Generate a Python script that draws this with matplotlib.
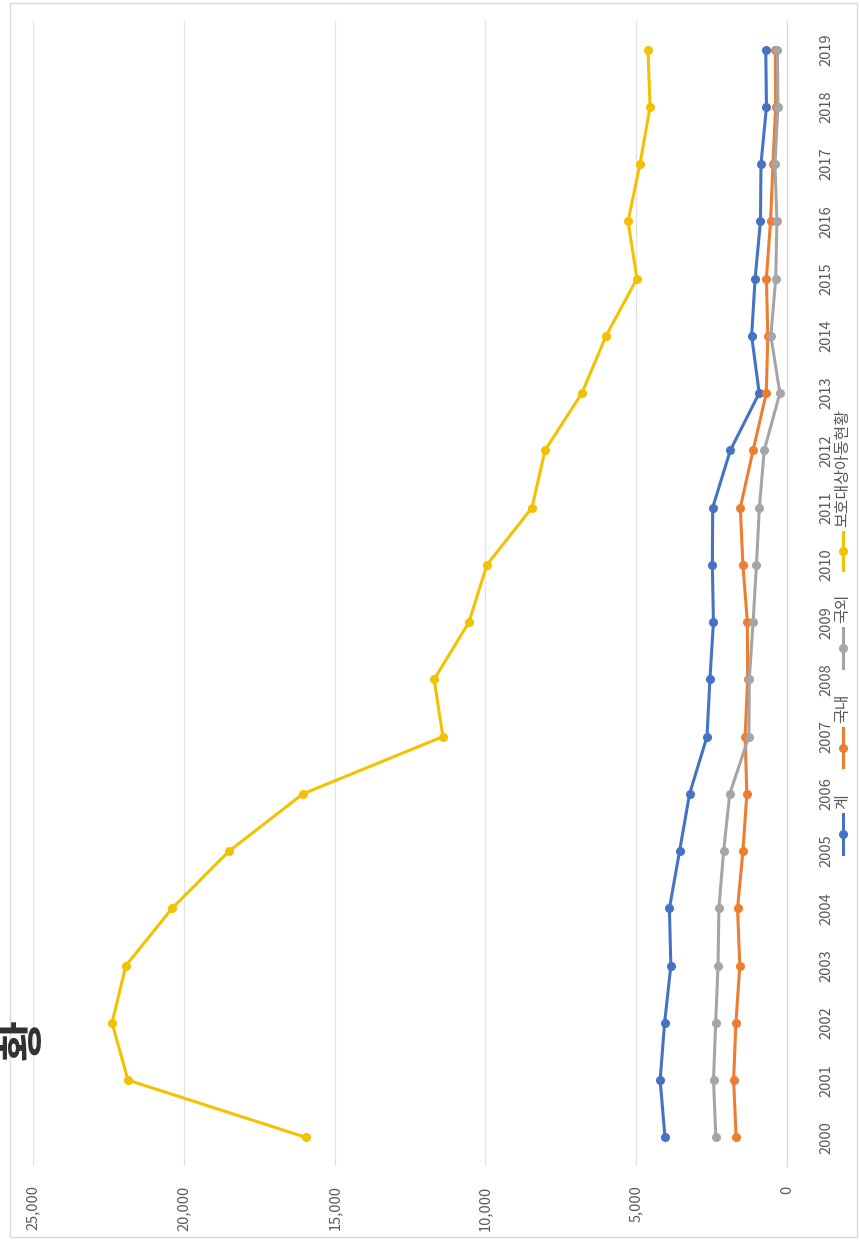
import matplotlib
matplotlib.use("Agg")
import matplotlib.pyplot as plt
from matplotlib.lines import Line2D
from matplotlib.patches import Rectangle

plt.rcParams['font.family'] = ['Noto Sans CJK KR', 'DejaVu Sans']

# 연도별 입양 및 보호대상아동 현황
years = list(range(2000, 2020))
total = [4046, 4206, 4059, 3851, 3899, 3562, 3231, 2652, 2556, 2439,
         2475, 2464, 1880, 922, 1172, 1057, 880, 863, 681, 704]
domestic = [1686, 1770, 1694, 1564, 1640, 1461, 1332, 1388, 1306, 1314,
            1462, 1548, 1125, 686, 637, 683, 546, 465, 378, 387]
overseas = [2360, 2436, 2365, 2287, 2258, 2101, 1899, 1264, 1250, 1125,
            1013, 916, 755, 236, 535, 374, 334, 398, 303, 317]
protected = [15950, 21850, 22380, 21920, 20390, 18500, 16050, 11410, 11700, 10545,
             9950, 8455, 8025, 6800, 6000, 4975, 5270, 4875, 4540, 4610]

series_names = ['계', '국내', '국외', '보호대상아동현황']
series_colors = ['#4472C4', '#ED7D31', '#A5A5A5', '#F2C200']
value_ticks = [0, 5000, 10000, 15000, 20000, 25000]

W, H = 860, 1241
fig = plt.figure(figsize=(W / 100, H / 100), dpi=100)


def fx(px):
    return px / W


def fy(py):
    return 1 - py / H


# 차트 전체를 90도 돌린 배치: 값은 가로(오른쪽이 0), 연도는 세로
ax = fig.add_axes([fx(33), fy(1166), fx(787) - fx(33), fy(21) - fy(1166)])
for name, vals, c in zip(series_names, [total, domestic, overseas, protected], series_colors):
    ax.plot(vals, years, color=c, lw=2.2, marker='o', ms=5.5, zorder=3, label=name)

ax.set_xlim(25000, 0)
ax.set_ylim(1999.5, 2019.5)
ax.set_xticks(value_ticks)
ax.set_xticklabels([f'{v:,}' for v in value_ticks], rotation=90, color='#595959', fontsize=10.5)
ax.set_yticks(years)
ax.yaxis.tick_right()
ax.set_yticklabels([str(y) for y in years], rotation=90, color='#595959', fontsize=10.5,
                   va='center', ha='left')
ax.tick_params(axis='x', length=0, pad=14)
ax.tick_params(axis='y', length=0, pad=23)
ax.grid(axis='x', color='#E2E2E2', lw=0.9, zorder=0)
for s in ['top', 'bottom', 'left']:
    ax.spines[s].set_visible(False)
ax.spines['right'].set_color('#D9D9D9')

# 범례 (세로로 세운 형태): 선 아래끝, 선 위끝, 글자 아래끝
legend_pos = [(854, 814, 809), (767, 728, 723), (668, 628, 623), (570, 532, 527)]
for (y0, y1, yt), name, c in zip(legend_pos, series_names, series_colors):
    fig.add_artist(Line2D([fx(843), fx(843)], [fy(y0), fy(y1)], color=c, lw=2.2,
                          transform=fig.transFigure))
    fig.add_artist(Line2D([fx(843)], [fy((y0 + y1) / 2)], color=c, marker='o', ms=5.5,
                          transform=fig.transFigure))
    fig.text(fx(843), fy(yt), name, rotation=90, ha='center', va='bottom',
             color='#595959', fontsize=11.5)

# 제목 (왼쪽 끝에 일부만 보임)
fig.text(fx(1), fy(1040), '황', rotation=90, ha='left', va='center',
         fontsize=32, fontweight='bold', color='#303030')

# 차트 영역 테두리
fig.add_artist(Rectangle((fx(10), fy(1237)), fx(857) - fx(10), fy(3) - fy(1237),
                         transform=fig.transFigure, fill=False, ec='#D9D9D9', lw=1))

fig.savefig('out.png', dpi=100)
